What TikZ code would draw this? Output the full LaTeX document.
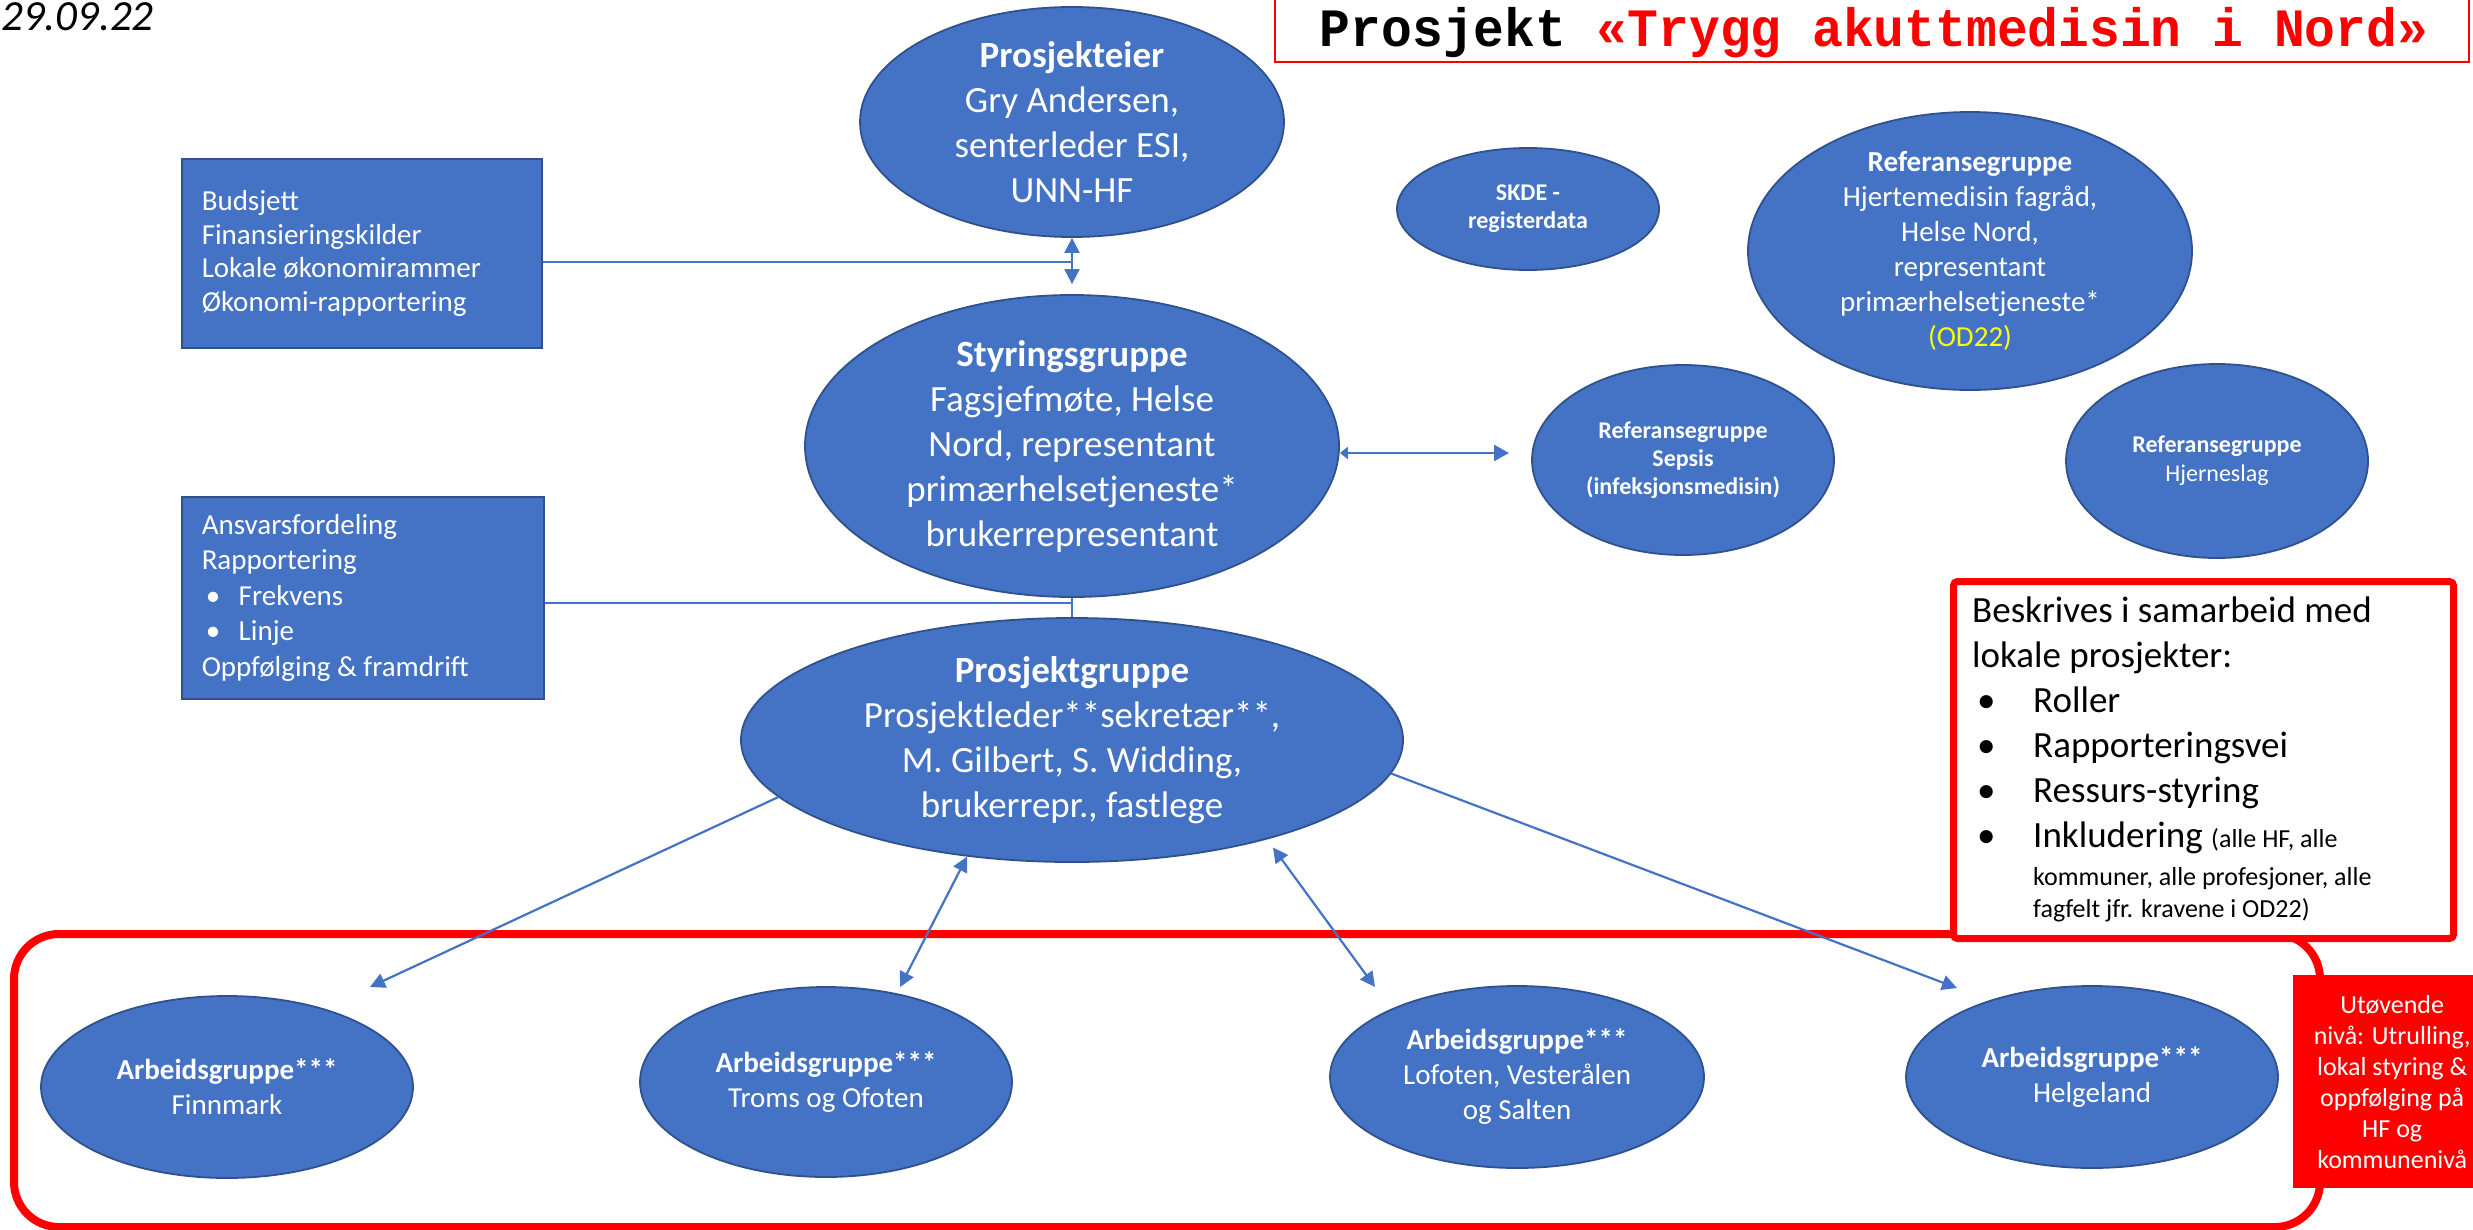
\documentclass[tikz,border=0pt]{standalone}
\usepackage{fontspec}
\setmainfont{Carlito}
\newfontfamily\titlefont{Liberation Mono}
\usetikzlibrary{shapes.geometric,arrows.meta}
\definecolor{ublue}{HTML}{4472C4}
\definecolor{ubord}{HTML}{2F528F}
\definecolor{ured}{HTML}{FF0000}
\definecolor{uyel}{HTML}{FFFF00}
\newcommand\setfs[2]{\fontsize{#1}{#2}\selectfont}
\newcommand\abullet{\makebox[37pt][l]{\hspace{4pt}•}}
\newcommand\bbullet{\makebox[61pt][l]{\hspace{5pt}•}}
\tikzset{
 ell/.style={ellipse, draw=ubord, line width=1.8pt, fill=ublue, inner sep=0pt},
 lbl/.style={text=white, align=center, inner sep=0pt},
 bluebox/.style={rectangle, draw=ubord, line width=1.5pt, fill=ublue, text=white, align=flush left, inner xsep=20pt, inner ysep=0pt},
 thinln/.style={draw=ublue, line width=1.5pt},
 arr/.style={draw=ublue, line width=2.2pt, -{Triangle[width=15pt,length=15pt]}},
 darr/.style={draw=ublue, line width=2.2pt, {Triangle[width=15pt,length=15pt]}-{Triangle[width=15pt,length=15pt]}},
 sarr/.style={draw=ublue, line width=2.6pt, {Triangle[width=12pt,length=8pt]}-{Triangle[width=16pt,length=15pt]}},
}
\begin{document}
\begin{tikzpicture}[x=1pt,y=-1pt]
\useasboundingbox (0,0) rectangle (2473,1229);

% frames
\node[draw=ured, line width=8pt, rounded corners=45pt, minimum width=2306pt, minimum height=293pt, anchor=north west, inner sep=0pt] (frame) at (10,930) {};
\node[draw=ured, line width=7pt, fill=white, rounded corners=4pt, minimum width=500pt, minimum height=357pt, anchor=north west, inner sep=0pt] (besk) at (1950,578) {};

% date and title
\node[anchor=base west, inner sep=0pt, font=\setfs{43}{50}\itshape] (date) at (1,30) {29.09.22};
\node[draw=ured, line width=2pt, minimum width=1194pt, minimum height=72pt, anchor=south west, inner sep=0pt] (titlebox) at (1274,63) {};
\node[anchor=base, inner sep=0pt] (title) at (1874,46) {\scalebox{0.95}[1]{\titlefont\bfseries\setfs{54}{60}Prosjekt \textcolor{ured}{«Trygg akuttmedisin i Nord»}}};

% ellipses
\node[ell, minimum width=424pt, minimum height=230pt] (pe) at (1072,122) {};
\node[lbl, font=\setfs{37}{45}] (pet) at (pe.center) {\textbf{Prosjekteier}\\Gry Andersen,\\senterleder ESI,\\UNN-HF};

\node[ell, minimum width=534pt, minimum height=302pt] (ss) at (1072,446) {};
\node[lbl, font=\setfs{37}{45}] (sst) at (ss.center) {\textbf{Styringsgruppe}\\Fagsjefmøte, Helse\\Nord, representant\\primærhelsetjeneste*\\brukerrepresentant};

\node[ell, minimum width=662pt, minimum height=244pt] (pg) at (1072,740) {};
\node[lbl, font=\setfs{37}{45}] (pgt) at (pg.center) {\textbf{Prosjektgruppe}\\Prosjektleder**sekretær**,\\M. Gilbert, S. Widding,\\brukerrepr., fastlege};

\node[ell, minimum width=262pt, minimum height=122pt] (skde) at (1528,209) {};
\node[lbl, font=\setfs{24}{28}\bfseries] (skdet) at (skde.center) {SKDE -\\registerdata};

\node[ell, minimum width=444pt, minimum height=278pt] (rhj) at (1970,251) {};
\node[lbl, font=\setfs{29}{35}] (rhjt) at (rhj.center) {\textbf{Referansegruppe}\\Hjertemedisin fagråd,\\Helse Nord,\\representant\\primærhelsetjeneste*\\\textcolor{uyel}{(OD22)}};

\node[ell, minimum width=302pt, minimum height=190pt] (rsep) at (1683,460) {};
\node[lbl, font=\setfs{24}{28}\bfseries] (rsept) at (rsep.center) {Referansegruppe\\Sepsis\\(infeksjonsmedisin)};

\node[ell, minimum width=302pt, minimum height=194pt] (rhs) at (2217,461) {};
\node[lbl, font=\setfs{24}{29}] (rhst) at (rhs.center) {\textbf{Referansegruppe}\\Hjerneslag};

\node[ell, minimum width=372pt, minimum height=182pt] (afin) at (227,1087) {};
\node[lbl, font=\setfs{29}{35}] (afint) at (afin.center) {\textbf{Arbeidsgruppe***}\\Finnmark};

\node[ell, minimum width=372pt, minimum height=190pt] (atro) at (826,1082) {};
\node[lbl, font=\setfs{29}{35}] (atrot) at (atro.center) {\textbf{Arbeidsgruppe***}\\Troms og Ofoten};

\node[ell, minimum width=374pt, minimum height=182pt] (alof) at (1517,1077) {};
\node[lbl, font=\setfs{29}{35}] (aloft) at (alof.center) {\textbf{Arbeidsgruppe***}\\Lofoten, Vesterålen\\og Salten};

\node[ell, minimum width=372pt, minimum height=182pt] (ahel) at (2092,1077) {};
\node[lbl, font=\setfs{29}{35}] (ahelt) at (ahel.center) {\textbf{Arbeidsgruppe***}\\Helgeland};

% boxes
\node[bluebox, minimum width=360pt, minimum height=189pt, text width=320pt, font=\setfs{29}{33.5}, anchor=north west] (bud) at (181,158) {Budsjett\\Finansieringskilder\\Lokale økonomirammer\\Økonomi-rapportering};
\node[bluebox, minimum width=362pt, minimum height=202pt, text width=322pt, font=\setfs{29}{35.5}, anchor=north west] (ans) at (181,496) {Ansvarsfordeling\\Rapportering\\\abullet Frekvens\\\abullet Linje\\Oppfølging \& framdrift};

% text of Beskrives box
\node[anchor=north west, text width=470pt, align=flush left, inner sep=0pt, font=\setfs{37}{45}] (beskt) at (1972,597) {Beskrives i samarbeid med\\
lokale prosjekter:\\
\bbullet Roller\\
\bbullet Rapporteringsvei\\
\bbullet Ressurs-styring\\
\bbullet Inkludering {\setfs{26}{32}(alle HF, alle}\\[-7pt]
\hspace*{61pt}{\setfs{26}{32}kommuner, alle profesjoner, alle}\\[-13pt]
\hspace*{61pt}{\setfs{26}{32}fagfelt jfr. kravene i OD22)}};

% Utovende box
\node[fill=ured, minimum width=198pt, minimum height=213pt, anchor=north west, inner sep=0pt] (utov) at (2293,975) {};
\node[lbl, align=flush center, font=\setfs{26}{31}, text width=195pt] (utovt) at (utov.center) {Utøvende\\nivå: Utrulling,\\lokal styring \&\\oppfølging på\\HF og\\kommunenivå};

% connectors
\coordinate (j1) at (1072,262);
\draw[thinln] (bud.east |- j1) -- (j1);
\draw[darr, shorten >=10pt] (pe.south) -- (ss.north);
\coordinate (j2) at (1072,603);
\draw[thinln] (ans.east |- j2) -- (j2);
\draw[thinln] (ss.south) -- (pg.north);
\coordinate (sepa) at (1509,453);
\draw[sarr] (ss.east |- sepa) -- (sepa);

\coordinate (fa) at (370,987);
\draw[arr] (pg.191.8) -- (fa);
\coordinate (ta) at (900,987);
\draw[darr] (pg.228.5) -- (ta);
\coordinate (la) at (1375,987);
\draw[darr, shorten <=10pt] (pg.-27.8) -- (la);
\coordinate (ha) at (1957,988);
\draw[arr] (pg.-6.9) -- (ha);
\end{tikzpicture}
\end{document}
